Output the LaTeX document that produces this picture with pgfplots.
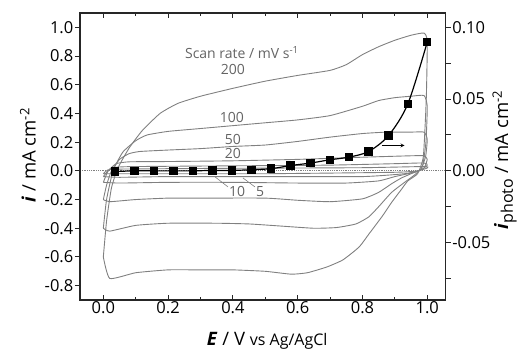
\documentclass[border=0pt]{standalone}
\usepackage{fontspec}
\setmainfont{Open Sans}
\usepackage{pgfplots}
\pgfplotsset{compat=1.18}
\definecolor{cvgray}{RGB}{128,128,128}
\definecolor{txtgray}{RGB}{100,100,100}
\newcommand{\lblfont}{\fontsize{18.5}{22}\selectfont}
\begin{document}
\begin{tikzpicture}
\pgfplotsset{
  every axis/.append style={
    scale only axis, width=365.7pt, height=287pt,
    xmin=-0.072, xmax=1.057,
    /pgf/number format/assume math mode=true,
    tick label style={font=\fontsize{16.5}{19}\selectfont, inner sep=1.5pt},
    major tick length=5pt, minor tick length=3pt,
    axis line style={line width=1.1pt, black!85},
    every tick/.style={line width=1pt, black!85},
  }
}
% ---------- main axis: CVs ----------
\begin{axis}[name=main, ymin=-0.9, ymax=1.1,
  tick align=inside, xtick pos=both,
  xtick={0,0.2,0.4,0.6,0.8,1.0}, minor xtick={0.1,0.3,0.5,0.7,0.9},
  ytick=\empty,
  xticklabel style={/pgf/number format/.cd, fixed, fixed zerofill, precision=1},
  xlabel={\lblfont\textbf{\textit{E}} / V {\fontsize{16}{18}\selectfont vs Ag/AgCl}},
  every axis x label/.style={at={(axis description cs:0.512,-0.157)}, anchor=base},
  clip=false]
\addplot[cvgray, densely dotted, line width=0.8pt] coordinates {(-0.072,0) (1.057,0)};
% 200 mV/s
\addplot[cvgray, line width=0.9pt, smooth, tension=0.3] coordinates {
(0.0,-0.60) (0.01,-0.35) (0.025,-0.12) (0.045,0.02) (0.08,0.16) (0.12,0.28) (0.175,0.40) (0.23,0.47) (0.3,0.52) (0.4,0.575) (0.5,0.625) (0.6,0.665) (0.7,0.70) (0.75,0.74) (0.8,0.81) (0.85,0.865) (0.9,0.91) (0.95,0.945) (0.99,0.96) (1.0,0.90) (0.997,0.5) (0.988,0.1) (0.97,-0.02) (0.94,-0.07) (0.92,-0.13) (0.89,-0.22) (0.86,-0.32) (0.82,-0.44) (0.79,-0.53) (0.74,-0.62) (0.69,-0.67) (0.63,-0.71) (0.58,-0.72) (0.5,-0.70) (0.4,-0.69) (0.3,-0.69) (0.2,-0.69) (0.1,-0.71) (0.02,-0.75) (0.0,-0.60)};
% 100 mV/s
\addplot[cvgray, line width=0.9pt, smooth, tension=0.3] coordinates {
(0.0,-0.40) (0.01,-0.2) (0.03,0.0) (0.06,0.13) (0.1,0.21) (0.135,0.25) (0.2,0.275) (0.3,0.295) (0.4,0.315) (0.5,0.335) (0.6,0.355) (0.7,0.385) (0.8,0.45) (0.85,0.49) (0.9,0.51) (0.95,0.52) (0.99,0.525) (1.0,0.45) (0.996,0.2) (0.985,0.03) (0.96,-0.03) (0.93,-0.08) (0.89,-0.15) (0.85,-0.25) (0.82,-0.32) (0.78,-0.37) (0.72,-0.395) (0.65,-0.40) (0.55,-0.385) (0.45,-0.37) (0.35,-0.365) (0.2,-0.365) (0.1,-0.38) (0.02,-0.42) (0.0,-0.40)};
% 50 mV/s
\addplot[cvgray, line width=0.9pt, smooth, tension=0.3] coordinates {
(0.0,-0.2) (0.01,-0.1) (0.025,0.0) (0.05,0.08) (0.08,0.12) (0.113,0.135) (0.2,0.145) (0.3,0.155) (0.4,0.17) (0.5,0.18) (0.6,0.205) (0.7,0.235) (0.8,0.26) (0.875,0.27) (0.95,0.27) (0.99,0.27) (1.0,0.22) (0.995,0.1) (0.98,0.01) (0.95,-0.02) (0.92,-0.05) (0.89,-0.09) (0.85,-0.15) (0.8,-0.195) (0.7,-0.215) (0.6,-0.205) (0.5,-0.19) (0.3,-0.19) (0.2,-0.19) (0.1,-0.2) (0.02,-0.215) (0.0,-0.2)};
% 20 mV/s
\addplot[cvgray, line width=0.9pt, smooth, tension=0.3] coordinates {
(0.0,-0.08) (0.015,0.0) (0.04,0.05) (0.08,0.063) (0.2,0.065) (0.4,0.07) (0.6,0.08) (0.8,0.095) (0.95,0.105) (0.99,0.105) (1.0,0.08) (0.99,0.02) (0.96,-0.01) (0.9,-0.04) (0.85,-0.07) (0.75,-0.085) (0.6,-0.085) (0.4,-0.08) (0.2,-0.08) (0.05,-0.085) (0.0,-0.08)};
% 10 mV/s
\addplot[cvgray, line width=0.9pt, smooth, tension=0.3] coordinates {
(0.0,-0.04) (0.015,0.0) (0.04,0.025) (0.1,0.03) (0.4,0.035) (0.7,0.04) (0.9,0.05) (0.99,0.055) (1.0,0.04) (0.98,0.005) (0.93,-0.02) (0.8,-0.04) (0.5,-0.04) (0.2,-0.04) (0.05,-0.045) (0.0,-0.04)};
% 5 mV/s
\addplot[cvgray, line width=0.9pt, smooth, tension=0.3] coordinates {
(0.0,-0.02) (0.01,0.0) (0.04,0.012) (0.4,0.018) (0.8,0.022) (0.99,0.03) (1.0,0.02) (0.97,0.0) (0.9,-0.01) (0.5,-0.02) (0.1,-0.02) (0.0,-0.02)};
% annotations
\node[txtgray, font=\fontsize{14}{16}\selectfont] at (axis cs:0.428,0.823) {Scan rate / mV s\textsuperscript{-1}};
\node[txtgray, font=\fontsize{14}{16}\selectfont] at (axis cs:0.40,0.705) {200};
\node[txtgray, font=\fontsize{14}{16}\selectfont] at (axis cs:0.397,0.37) {100};
\node[txtgray, font=\fontsize{14}{16}\selectfont] at (axis cs:0.40,0.216) {50};
\node[txtgray, font=\fontsize{14}{16}\selectfont] at (axis cs:0.40,0.12) {20};
\node[txtgray, font=\fontsize{14}{16}\selectfont] at (axis cs:0.413,-0.147) {10};
\node[txtgray, font=\fontsize{14}{16}\selectfont] at (axis cs:0.484,-0.147) {5};
\draw[cvgray, line width=0.6pt] (axis cs:0.385,-0.112) -- (axis cs:0.345,-0.042);
\draw[cvgray, line width=0.6pt] (axis cs:0.468,-0.112) -- (axis cs:0.431,-0.049);
\end{axis}
% ---------- left y axis ----------
\begin{axis}[ymin=-0.9, ymax=1.1,
  axis y line*=left, axis x line=none, tick align=outside,
  ytick={-0.8,-0.6,-0.4,-0.2,0,0.2,0.4,0.6,0.8,1.0},
  yticklabel style={/pgf/number format/.cd, fixed, fixed zerofill, precision=1},
  ylabel={\lblfont\textbf{\textit{i}} / mA cm\textsuperscript{-2}},
  every axis y label/.style={at={(axis description cs:-0.1422,0.505)}, rotate=90, anchor=center}]
\end{axis}
% ---------- right y axis: photocurrent ----------
\begin{axis}[ymin=-0.09, ymax=0.11,
  axis y line*=right, axis x line=none, tick align=outside,
  ytick={-0.05,0,0.05,0.1}, minor ytick={-0.075,-0.025,0.025,0.075},
  minor tick length=5pt,
  yticklabel style={/pgf/number format/.cd, fixed, fixed zerofill, precision=2},
  ylabel={\lblfont\textbf{\textit{i}}{\fontsize{16}{18}\selectfont\raisebox{-0.3em}{photo}} / mA cm\textsuperscript{-2}},
  every axis y label/.style={at={(axis description cs:1.1613,0.488)}, rotate=90, anchor=center},
  clip=false]
\addplot[black, line width=1.2pt, smooth, tension=0.5, mark=square*, mark size=3.6pt, mark options={solid}] coordinates {
(0.036,-0.0005) (0.096,0.0) (0.157,0.0) (0.217,0.0) (0.277,0.0) (0.337,0.0003) (0.398,0.0003) (0.458,0.0008) (0.518,0.0015) (0.578,0.0037) (0.639,0.0054) (0.699,0.0077) (0.759,0.0096) (0.819,0.0135) (0.880,0.0245) (0.940,0.0466) (1.000,0.0897)};
\draw[black, line width=0.8pt, -stealth] (axis cs:0.86,0.0177) -- (axis cs:0.93,0.0177);
\end{axis}
\pgfresetboundingbox
\path[use as bounding box] ([shift={(-80pt,-49pt)}]main.south west) rectangle ([shift={(79.3pt,13pt)}]main.north east);
\end{tikzpicture}
\end{document}
